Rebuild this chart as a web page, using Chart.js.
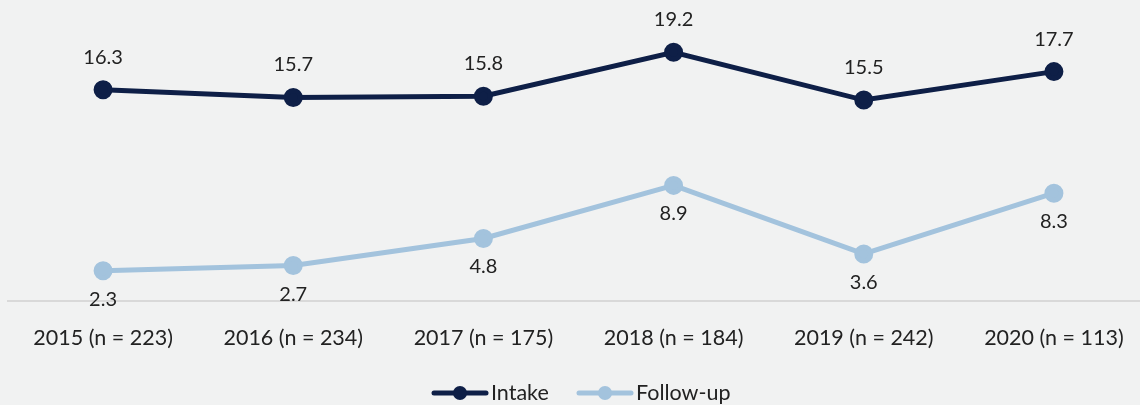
<!DOCTYPE html>
<html>
<head>
<meta charset="utf-8">
<script src="https://cdn.jsdelivr.net/npm/chart.js@4"></script>
<style>
  html, body { margin: 0; padding: 0; background: #f1f2f2; overflow: hidden; }
  /* plot runs a little past the right edge of the window */
  #wrap { position: absolute; left: -6px; top: 0; width: 1169px; height: 405px; }
</style>
</head>
<body>
<div id="wrap"><canvas id="grafico"></canvas></div>
<script>
const years = ["2015 (n = 223)", "2016 (n = 234)", "2017 (n = 175)", "2018 (n = 184)", "2019 (n = 242)", "2020 (n = 113)"];
const intake = [16.3, 15.7, 15.8, 19.2, 15.5, 17.7];
const followUp = [2.3, 2.7, 4.8, 8.9, 3.6, 8.3];

const DARK = "#0e1f47";
const LIGHT = "#a3c3dd";
const TEXT = "#222";
const FONT = "Lato, 'Open Sans', sans-serif";
const SHIFT = 6; // canvas sits 6px left of the window

// value labels: intake above the point, follow-up below
const valueLabels = {
  id: "valueLabels",
  afterDatasetsDraw(chart) {
    const ctx = chart.ctx;
    ctx.save();
    ctx.font = "20px " + FONT;
    ctx.fillStyle = TEXT;
    ctx.textAlign = "center";
    ctx.textBaseline = "alphabetic";
    chart.data.datasets.forEach((ds, i) => {
      const meta = chart.getDatasetMeta(i);
      meta.data.forEach((pt, j) => {
        const dy = i === 0 ? -33 : 28;
        ctx.fillText(ds.data[j].toFixed(1), pt.x, pt.y + dy + 7);
      });
    });
    ctx.restore();
  }
};

// legend with line + dot markers
const lineLegend = {
  id: "lineLegend",
  afterDraw(chart) {
    const ctx = chart.ctx;
    const y = 393;
    const items = [
      { x: 432 + SHIFT, color: DARK, text: "Intake" },
      { x: 577 + SHIFT, color: LIGHT, text: "Follow-up" }
    ];
    ctx.save();
    items.forEach(it => {
      ctx.strokeStyle = it.color;
      ctx.lineWidth = 5;
      ctx.lineCap = "round";
      ctx.beginPath();
      ctx.moveTo(it.x + 2, y);
      ctx.lineTo(it.x + 54, y);
      ctx.stroke();
      ctx.fillStyle = it.color;
      ctx.beginPath();
      ctx.arc(it.x + 28, y, 7, 0, Math.PI * 2);
      ctx.fill();
      ctx.fillStyle = TEXT;
      ctx.font = "21.5px " + FONT;
      ctx.textAlign = "left";
      ctx.textBaseline = "middle";
      ctx.fillText(it.text, it.x + 59, y);
    });
    ctx.restore();
  }
};

new Chart(document.getElementById("grafico"), {
  type: "line",
  data: {
    labels: years,
    datasets: [{
      label: "Intake",
      data: intake,
      borderColor: DARK,
      backgroundColor: DARK,
      borderWidth: 5,
      pointRadius: 7,
      pointHoverRadius: 7,
      tension: 0
    }, {
      label: "Follow-up",
      data: followUp,
      borderColor: LIGHT,
      backgroundColor: LIGHT,
      borderWidth: 5,
      pointRadius: 7,
      pointHoverRadius: 7,
      tension: 0
    }]
  },
  options: {
    responsive: true,
    maintainAspectRatio: false,
    animation: false,
    layout: { padding: { top: 16, left: 14, right: 14, bottom: 50 } },
    plugins: {
      legend: { display: false },
      tooltip: { enabled: false }
    },
    scales: {
      x: {
        offset: true,
        grid: { display: false, drawTicks: false },
        border: { display: true, color: "#d9d9d9", width: 2 },
        ticks: {
          color: TEXT,
          font: { family: FONT, size: 21.5 },
          padding: 25,
          maxRotation: 0,
          autoSkip: false
        },
        afterFit(scale) { scale.height = 54.5; }
      },
      y: {
        display: false,
        min: 0,
        max: 22
      }
    }
  },
  plugins: [valueLabels, lineLegend]
});
</script>
</body>
</html>
